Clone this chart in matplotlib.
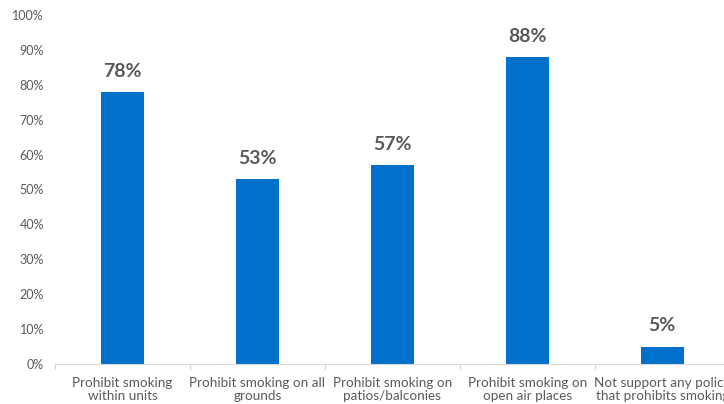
import matplotlib.pyplot as plt
import numpy as np

categories = ['Prohibit smoking\nwithin units', 'Prohibit smoking on all\ngrounds',
              'Prohibit smoking on\npatios/balconies', 'Prohibit smoking on\nopen air places',
              'Not support any policy\nthat prohibits smoking']
values = [78, 53, 57, 88, 5]

plt.rcParams['font.family'] = ['Lato', 'DejaVu Sans']

fig = plt.figure(figsize=(7.24, 4.04), dpi=100)
ax = fig.add_axes([0.076, 0.099, 0.932, 0.864])

x = np.arange(len(categories))
ax.bar(x, values, width=0.32, color='#0070CC')

for xi, v in zip(x, values):
    ax.text(xi, v + 3.5, f'{v}%', ha='center', va='bottom', fontsize=14,
            fontweight='bold', color='#595959')

ax.set_xlim(-0.5, len(categories) - 0.5)
ax.set_ylim(0, 100)
ax.set_yticks(range(0, 101, 10))
ax.set_yticklabels([f'{t}%' for t in range(0, 101, 10)])
ax.set_xticks(x)
ax.set_xticklabels(categories, linespacing=1.1)
ax.tick_params(axis='y', length=0, labelsize=9, colors='#595959', pad=8)
ax.tick_params(axis='x', length=0, labelsize=9.7, colors='#595959', pad=9)

# small separators between categories
for b in np.arange(-0.5, len(categories), 1):
    ax.plot([b, b], [0, -1.5], color='#D9D9D9', lw=1, clip_on=False)

for s in ['top', 'right', 'left']:
    ax.spines[s].set_visible(False)
ax.spines['bottom'].set_color('#D9D9D9')

fig.savefig('out.png', dpi=100)
